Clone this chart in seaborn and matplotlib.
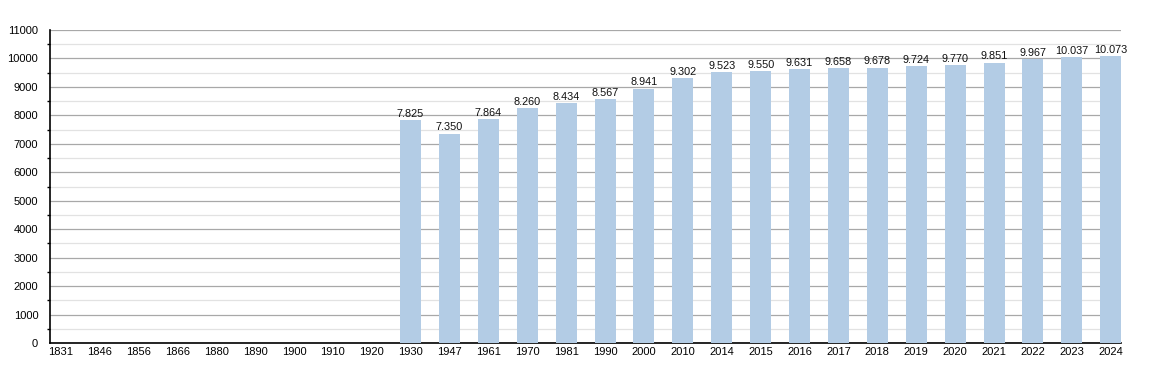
import numpy as np
import pandas as pd
import matplotlib
matplotlib.use('Agg')
import matplotlib.pyplot as plt
import seaborn as sns
from matplotlib.ticker import MultipleLocator

# Données (années de recensement et population)
years = ['1831', '1846', '1856', '1866', '1880', '1890', '1900', '1910', '1920',
         '1930', '1947', '1961', '1970', '1981', '1990', '2000', '2010', '2014',
         '2015', '2016', '2017', '2018', '2019', '2020', '2021', '2022', '2023', '2024']
population = [np.nan] * 9 + [7825, 7350, 7864, 8260, 8434, 8567, 8941, 9302, 9523,
                             9550, 9631, 9658, 9678, 9724, 9770, 9851, 9967, 10037, 10073]

BAR_COLOR = '#b3cce5'

df = pd.DataFrame({'year': years, 'pop': population})

sns.set_style('white')
plt.rcParams['font.family'] = ['Liberation Sans', 'DejaVu Sans']

fig = plt.figure(figsize=(11.5, 3.73), dpi=100)
ax = fig.add_axes([0.0435, 0.0804, 0.9315, 0.8392])

sns.barplot(data=df.dropna(), x='year', y='pop', order=years, color=BAR_COLOR,
            width=0.54, errorbar=None, saturation=1, linewidth=0, edgecolor='none',
            ax=ax, zorder=3)

# Étiquettes au-dessus des barres (séparateur de milliers = point)
vals = df['pop'].dropna().astype(int)
labels = [f"{v:,}".replace(',', '.') for v in vals]
ax.bar_label(ax.containers[0], labels=labels, padding=1, fontsize=7.8, color='#111111')

ax.set_ylim(0, 11000)
ax.set_xlim(-0.27, len(years) - 1 + 0.27)
ax.yaxis.set_major_locator(MultipleLocator(1000))
ax.yaxis.set_minor_locator(MultipleLocator(500))
ax.grid(axis='y', which='major', color='#a8a8a8', linewidth=0.9, zorder=0)
ax.grid(axis='y', which='minor', color='#e2e2e2', linewidth=0.9, zorder=0)
ax.set_axisbelow(True)

for side in ['top', 'right']:
    ax.spines[side].set_visible(False)
for side in ['left', 'bottom']:
    ax.spines[side].set_color('black')
    ax.spines[side].set_linewidth(1.2)

ax.tick_params(axis='y', which='major', direction='out', length=7, width=1, colors='black', labelsize=8, pad=1.5)
ax.tick_params(axis='y', which='minor', direction='out', length=2.5, width=1, colors='black', left=True)
ax.tick_params(axis='x', length=0, labelsize=8, pad=3, colors='black')
ax.set_xlabel('')
ax.set_ylabel('')

fig.savefig('out.png', dpi=100)
